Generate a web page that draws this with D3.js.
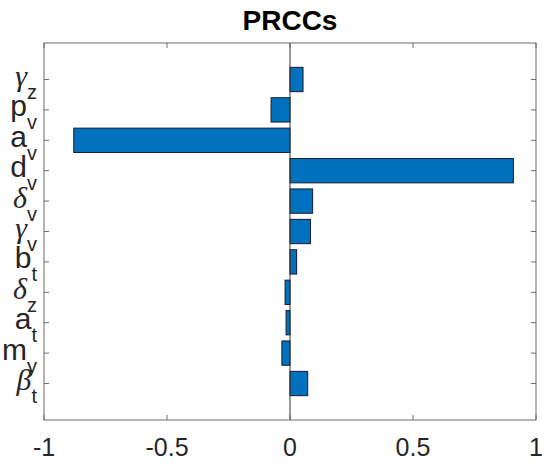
<!DOCTYPE html>
<html>
<head>
<meta charset="utf-8">
<script src="https://cdn.jsdelivr.net/npm/d3@7"></script>
<style>
  body { margin: 0; background: #fff; }
  svg { display: block; }
</style>
</head>
<body>
<svg id="chart" width="550" height="466"></svg>
<script>
/* --- data, bottom to top --- */
var params = ["β", "m", "a", "δ", "b", "γ", "δ", "d", "a", "p", "γ"];
var subs   = ["t", "y", "t", "z", "t", "v", "v", "v", "v", "v", "z"];
var prcc   = [0.072, -0.033, -0.016, -0.020, 0.027, 0.083, 0.092, 0.908, -0.879, -0.077, 0.053];
var xTicks = [-1, -0.5, 0, 0.5, 1];
var xTickLabels = ["-1", "-0.5", "0", "0.5", "1"];

/* --- layout --- */
var axLeft = 44, axRight = 536, axTop = 43, axBottom = 420;
var svg = d3.select("#chart");

var x = d3.scaleLinear().domain([-1, 1]).range([axLeft, axRight]);
var y = d3.scaleLinear().domain([-0.2, 12.2]).range([axBottom, axTop]);
var idx = d3.range(1, prcc.length + 1);
var barH = (y(0) - y(0.8));
var axisColor = "#6b6b6b";

// bars
svg.append("g")
  .selectAll("rect")
  .data(prcc)
  .join("rect")
  .attr("x", d => x(Math.min(0, d)))
  .attr("width", d => Math.abs(x(d) - x(0)))
  .attr("y", (d, i) => y(idx[i]) - barH / 2)
  .attr("height", barH)
  .attr("fill", "#0072BD")
  .attr("stroke", "#1a1a2e")
  .attr("stroke-width", 1);

// baseline at zero
svg.append("line")
  .attr("x1", x(0)).attr("x2", x(0))
  .attr("y1", axTop).attr("y2", axBottom)
  .attr("stroke", "#333").attr("stroke-width", 1);

// box
svg.append("rect")
  .attr("x", axLeft).attr("y", axTop)
  .attr("width", axRight - axLeft).attr("height", axBottom - axTop)
  .attr("fill", "none").attr("stroke", axisColor).attr("stroke-width", 1);

// x ticks (inward, top and bottom)
var tk = 5;
var xt = svg.append("g").attr("stroke", axisColor);
xTicks.forEach(function(t){
  xt.append("line").attr("x1", x(t)).attr("x2", x(t)).attr("y1", axBottom).attr("y2", axBottom - tk);
  xt.append("line").attr("x1", x(t)).attr("x2", x(t)).attr("y1", axTop).attr("y2", axTop + tk);
});

// y ticks (inward, left and right)
var yt = svg.append("g").attr("stroke", axisColor);
idx.forEach(function(t){
  yt.append("line").attr("x1", axLeft).attr("x2", axLeft + tk).attr("y1", y(t)).attr("y2", y(t));
  yt.append("line").attr("x1", axRight).attr("x2", axRight - tk).attr("y1", y(t)).attr("y2", y(t));
});

// x tick labels
svg.append("g")
  .selectAll("text")
  .data(xTicks)
  .join("text")
  .attr("x", d => x(d))
  .attr("y", axBottom + 36)
  .attr("text-anchor", "middle")
  .attr("font-family", "Liberation Sans, Arial, sans-serif")
  .attr("font-size", 25)
  .attr("fill", "#262626")
  .text((d, i) => xTickLabels[i]);

// y tick labels with subscripts (TeX style, subscript drops well below)
var greek = "βγδ";
var yl = svg.append("g")
  .attr("font-family", "Liberation Sans, Arial, sans-serif")
  .attr("fill", "#262626");
params.forEach(function(p, i){
  var t = yl.append("text")
    .attr("x", 37)
    .attr("y", y(idx[i]) + 6.5)
    .attr("text-anchor", "end");
  var main = t.append("tspan").attr("font-size", 30).text(p);
  if (greek.indexOf(p) >= 0) {
    main.attr("font-family", "Liberation Serif, Times New Roman, serif")
      .attr("font-style", "italic");
  }
  t.append("tspan").attr("font-size", 20).attr("dy", 13).text(subs[i]);
});

// title
svg.append("text")
  .attr("x", (axLeft + axRight) / 2)
  .attr("y", 30)
  .attr("text-anchor", "middle")
  .attr("font-family", "Liberation Sans, Arial, sans-serif")
  .attr("font-size", 28)
  .attr("font-weight", "bold")
  .attr("fill", "#000")
  .text("PRCCs");
</script>
</body>
</html>
